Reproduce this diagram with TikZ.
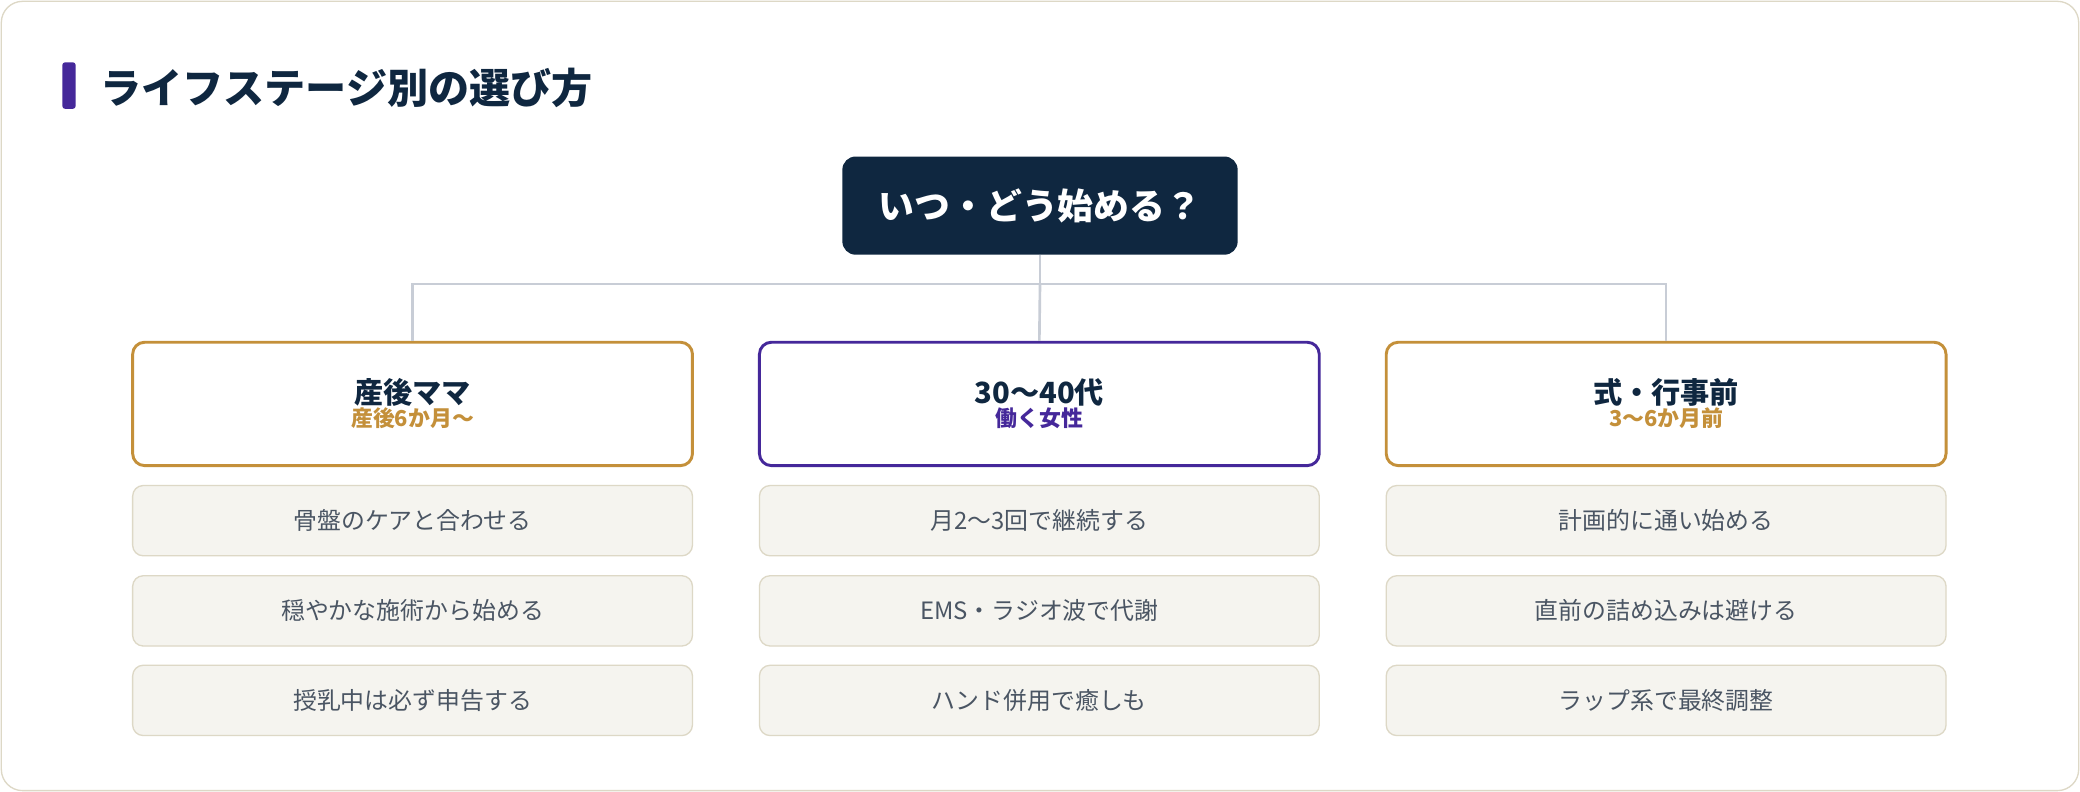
\documentclass[tikz,border=0pt]{standalone}
\usepackage{fontspec}
\setmainfont{Noto Sans CJK JP}
\usetikzlibrary{positioning}
\definecolor{navy}{HTML}{0F2740}
\definecolor{gold}{HTML}{C4903A}
\definecolor{violet}{HTML}{45289A}
\definecolor{itembg}{HTML}{F5F4EF}
\definecolor{itemline}{HTML}{DDD8C6}
\definecolor{linkc}{HTML}{C8CDD6}
\definecolor{itemtext}{HTML}{4A5563}
\tikzset{
  stage/.style={draw=#1, line width=2.2pt, fill=white, rounded corners=9pt,
    minimum width=422pt, minimum height=93pt, align=center},
  item/.style={draw=itemline, line width=1pt, fill=itembg, rounded corners=8pt,
    minimum width=422pt, minimum height=53pt, text=itemtext, font=\fontsize{18}{20}\selectfont},
  link/.style={linkc, line width=2pt},
}
\newcommand\stagehead[1]{\textcolor{navy}{\fontsize{22}{29}\bfseries\selectfont #1}}
\newcommand\stagesub[2]{\textcolor{#1}{\fontsize{16.5}{20}\bfseries\selectfont #2}}
\begin{document}
\begin{tikzpicture}[x=1pt, y=-1pt]
\useasboundingbox (0,0) rectangle (1568,597);
\draw[itemline, line width=1pt, rounded corners=16pt, fill=white] (1,1) rectangle (1567,596);
\fill[violet, rounded corners=2pt] (47,47) rectangle (57,82);
\node[anchor=west, text=navy, font=\fontsize{31}{34}\bfseries\selectfont] (title) at (72,66) {ライフステージ別の選び方};
\node[fill=navy, rounded corners=10pt, minimum width=298pt, minimum height=74pt, text=white,
  font=\fontsize{27}{30}\bfseries\selectfont] (root) at (784,155) {いつ・どう始める？};
% stages
\node[stage=gold] (S1) at (311,304.5) {\stagehead{産後ママ}\\ \stagesub{gold}{産後6か月〜}};
\node[stage=violet] (S2) at (783.5,304.5) {\stagehead{30〜40代}\\ \stagesub{violet}{働く女性}};
\node[stage=gold] (S3) at (1256,304.5) {\stagehead{式・行事前}\\ \stagesub{gold}{3〜6か月前}};
\coordinate (J) at (784,214);
\draw[link] (root.south) -- (J);
\draw[link] (S1.north) |- (J) -| (S3.north);
\draw[link] (J) -- (S2.north);
% items
\node[item] (A1) at (311,392.5) {骨盤のケアと合わせる};
\node[item] (A2) at (311,460.5) {穏やかな施術から始める};
\node[item] (A3) at (311,528) {授乳中は必ず申告する};
\node[item] (B1) at (783.5,392.5) {月2〜3回で継続する};
\node[item] (B2) at (783.5,460.5) {EMS・ラジオ波で代謝};
\node[item] (B3) at (783.5,528) {ハンド併用で癒しも};
\node[item] (C1) at (1256,392.5) {計画的に通い始める};
\node[item] (C2) at (1256,460.5) {直前の詰め込みは避ける};
\node[item] (C3) at (1256,528) {ラップ系で最終調整};
\end{tikzpicture}
\end{document}
